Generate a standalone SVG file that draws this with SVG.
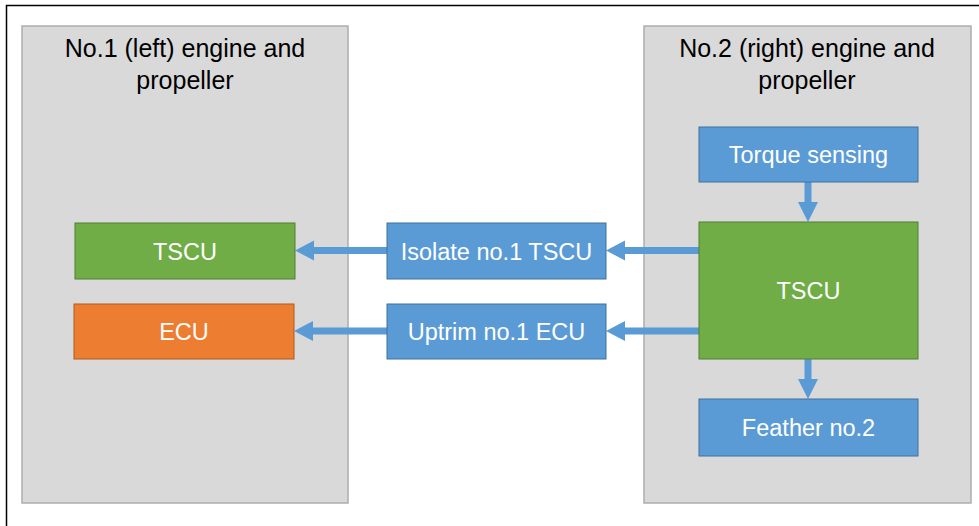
<svg xmlns="http://www.w3.org/2000/svg" width="979" height="526" viewBox="0 0 979 526">
<defs>
<style>
.panel{fill:#D9D9D9;stroke:#ADADAD;stroke-width:1.5}
.blue{fill:#5B9BD5;stroke:#41719C;stroke-width:1}
.green{fill:#70AD47;stroke:#507E32;stroke-width:1}
.orange{fill:#ED7D31;stroke:#AE5A21;stroke-width:1}
.title{font-family:"Liberation Sans",Arial,sans-serif;font-size:25px;fill:#000;text-anchor:middle}
.lbl{font-family:"Liberation Sans",Arial,sans-serif;font-size:23.5px;fill:#fff;text-anchor:middle}
.conn{stroke:#5B9BD5;stroke-width:7;fill:none}
.head{fill:#5B9BD5}
</style>
</defs>
<rect x="0" y="0" width="979" height="526" fill="#fff"/>
<path d="M6.5,526 V5.5 H979" fill="none" stroke="#000" stroke-width="1.5"/>
<g id="panel-left">
<rect class="panel" x="22" y="26" width="326" height="477"/>
<text class="title" x="185" y="57">No.1 (left) engine and</text>
<text class="title" x="185" y="89">propeller</text>
</g>
<g id="panel-right">
<rect class="panel" x="644" y="26" width="327" height="477"/>
<text class="title" x="807" y="57">No.2 (right) engine and</text>
<text class="title" x="807" y="89">propeller</text>
</g>
<g id="connectors">
<line class="conn" x1="808" y1="182" x2="808" y2="204"/>
<polygon class="head" points="798,202 818,202 808,222"/>
<line class="conn" x1="808" y1="359" x2="808" y2="381"/>
<polygon class="head" points="798,379 818,379 808,399"/>
<line class="conn" x1="699" y1="250.5" x2="623" y2="250.5"/>
<polygon class="head" points="625,240.5 625,260.5 606,250.5"/>
<line class="conn" x1="699" y1="331" x2="623" y2="331"/>
<polygon class="head" points="625,321 625,341 606,331"/>
<line class="conn" x1="387" y1="250.5" x2="311" y2="250.5"/>
<polygon class="head" points="314,240.5 314,260.5 295,250.5"/>
<line class="conn" x1="387" y1="331" x2="311" y2="331"/>
<polygon class="head" points="313,321 313,341 294,331"/>
</g>
<g id="torque-sensing">
<rect class="blue" x="699" y="127" width="219" height="55"/>
<text class="lbl" x="808.5" y="163">Torque sensing</text>
</g>
<g id="tscu-right">
<rect class="green" x="699" y="222" width="219" height="137"/>
<text class="lbl" x="808.5" y="299">TSCU</text>
</g>
<g id="feather">
<rect class="blue" x="699" y="399" width="219" height="57"/>
<text class="lbl" x="808.5" y="436">Feather no.2</text>
</g>
<g id="isolate">
<rect class="blue" x="387" y="223" width="219" height="56"/>
<text class="lbl" x="496.5" y="259.5">Isolate no.1 TSCU</text>
</g>
<g id="uptrim">
<rect class="blue" x="387" y="304" width="219" height="55"/>
<text class="lbl" x="496.5" y="340">Uptrim no.1 ECU</text>
</g>
<g id="tscu-left">
<rect class="green" x="75" y="223" width="220" height="56"/>
<text class="lbl" x="185" y="259.5">TSCU</text>
</g>
<g id="ecu">
<rect class="orange" x="74" y="304" width="220" height="55"/>
<text class="lbl" x="184" y="340">ECU</text>
</g>
</svg>
